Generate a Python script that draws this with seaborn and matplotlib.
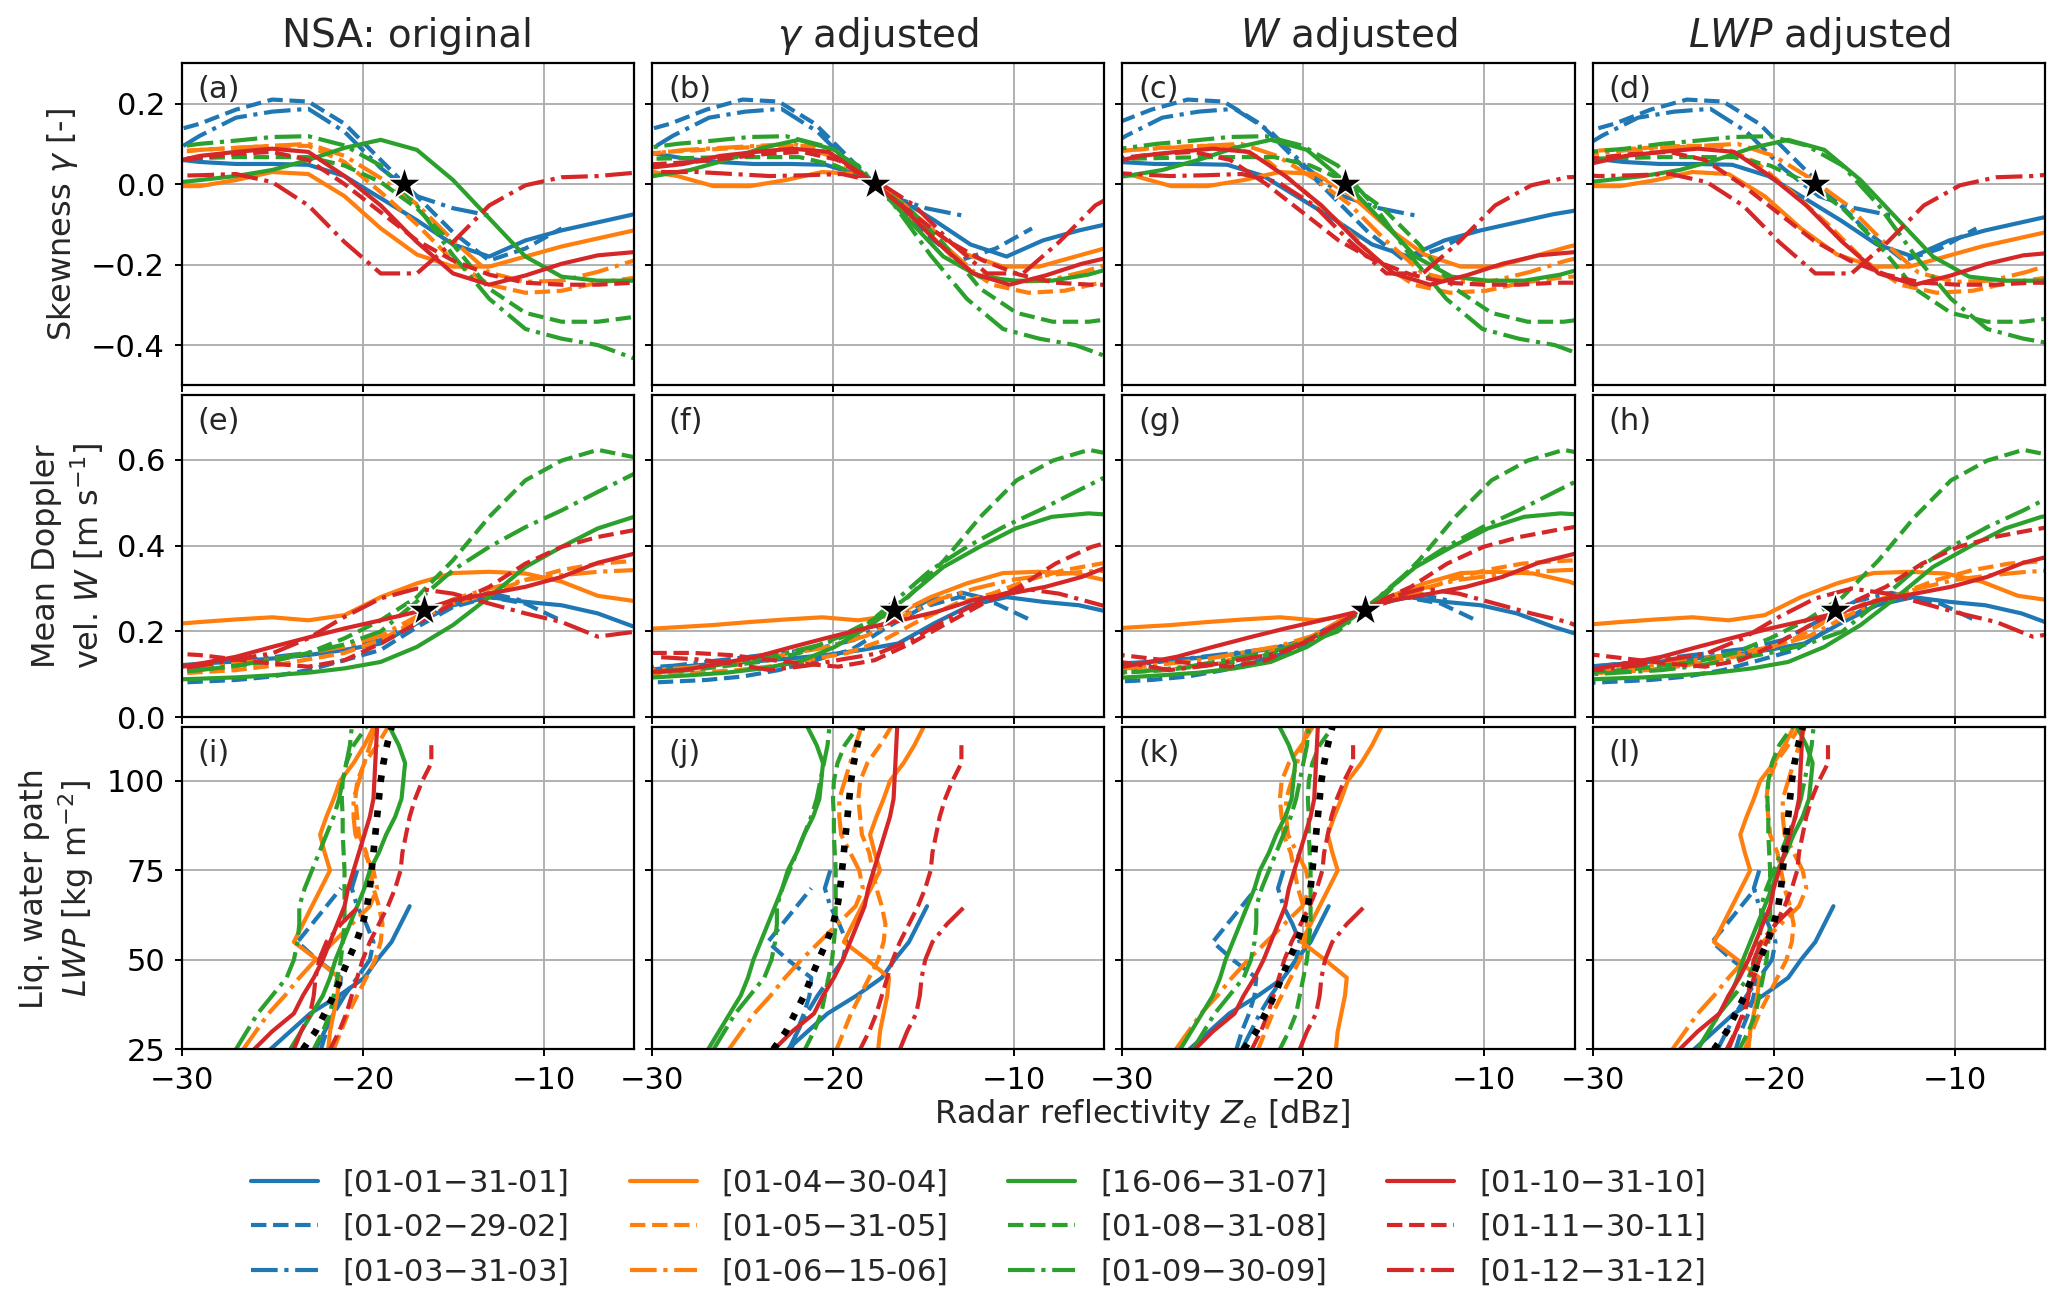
import numpy as np
import matplotlib
matplotlib.use("Agg")
import matplotlib.pyplot as plt
import seaborn as sns

nan = np.nan

# reflectivity bins (dBz) used in the skewness / velocity rows
ze_bins = np.array([-37, -35, -33, -31, -29, -27, -25, -23, -21, -19,
                    -17, -15, -13, -11, -9, -7, -5, -3, -1])
# LWP bins (kg m-2) used in the bottom row
lwp_bins = np.array([25, 30, 35, 40, 45, 50, 55, 60, 65, 70,
                     75, 80, 85, 90, 95, 100, 105, 110, 115])

# skewness per month (original calibration)
skew_jan = [0.09, 0.085, 0.08, 0.065, 0.055, 0.05, 0.05, 0.048, 0.02, -0.035, -0.09, -0.15, -0.18, -0.14, -0.115, -0.095, -0.075, -0.06, -0.045]
skew_feb = [0.06, 0.08, 0.1, 0.125, 0.15, 0.185, 0.21, 0.205, 0.15, 0.06, -0.03, -0.12, -0.19, -0.16, -0.11, nan, nan, nan, nan]
skew_mar = [0.03, 0.04, 0.05, 0.065, 0.12, 0.165, 0.18, 0.187, 0.13, 0.04, -0.03, -0.06, -0.078, nan, nan, nan, nan, nan, nan]
skew_apr = [0.04, 0.035, 0.02, -0.005, -0.005, 0.01, 0.03, 0.025, -0.03, -0.11, -0.175, -0.205, -0.205, -0.18, -0.155, -0.135, -0.115, -0.1, -0.09]
skew_may = [0.06, 0.065, 0.07, 0.08, 0.085, 0.09, 0.095, 0.095, 0.055, -0.02, -0.1, -0.19, -0.25, -0.27, -0.265, -0.245, -0.233, -0.225, -0.22]
skew_jun = [0.05, 0.06, 0.065, 0.075, 0.085, 0.09, 0.095, 0.1, 0.07, 0.015, -0.05, -0.14, -0.22, -0.243, -0.24, -0.218, -0.19, -0.17, -0.155]
skew_jul = [-0.01, -0.005, 0.0, 0.0, 0.01, 0.02, 0.035, 0.06, 0.09, 0.11, 0.085, 0.01, -0.085, -0.18, -0.23, -0.24, -0.24, -0.225, -0.2]
skew_aug = [0.05, 0.055, 0.06, 0.063, 0.065, 0.067, 0.067, 0.067, 0.046, 0.005, -0.06, -0.15, -0.26, -0.32, -0.342, -0.342, -0.33, -0.32, -0.31]
skew_sep = [0.06, 0.07, 0.08, 0.088, 0.1, 0.108, 0.117, 0.119, 0.096, 0.046, -0.053, -0.177, -0.285, -0.36, -0.384, -0.4, -0.433, -0.45, -0.47]
skew_oct = [0.03, 0.035, 0.04, 0.05, 0.07, 0.08, 0.088, 0.08, 0.02, -0.053, -0.144, -0.222, -0.25, -0.227, -0.198, -0.177, -0.169, -0.165, -0.16]
skew_nov = [0.04, 0.045, 0.05, 0.055, 0.065, 0.075, 0.08, 0.06, 0.0, -0.07, -0.14, -0.19, -0.225, -0.245, -0.25, -0.25, -0.245, -0.245, -0.245]
skew_dec = [0.03, 0.03, 0.025, 0.02, 0.022, 0.025, 0.005, -0.053, -0.144, -0.222, -0.222, -0.144, -0.053, -0.003, 0.017, 0.02, 0.028, 0.03, 0.03]

# mean Doppler velocity per month (m s-1)
vel_jan = [0.1, 0.105, 0.11, 0.118, 0.125, 0.13, 0.137, 0.145, 0.157, 0.172, 0.219, 0.261, 0.28, 0.269, 0.261, 0.242, 0.211, 0.185, 0.16]
vel_feb = [0.07, 0.072, 0.075, 0.079, 0.083, 0.087, 0.095, 0.11, 0.133, 0.157, 0.21, 0.257, 0.28, 0.265, 0.225, nan, nan, nan, nan]
vel_mar = [0.1, 0.105, 0.11, 0.115, 0.12, 0.13, 0.14, 0.15, 0.16, 0.18, 0.225, 0.27, 0.29, 0.27, nan, nan, nan, nan, nan]
vel_apr = [0.2, 0.205, 0.21, 0.215, 0.222, 0.228, 0.233, 0.226, 0.238, 0.28, 0.312, 0.336, 0.339, 0.335, 0.316, 0.283, 0.271, 0.26, 0.25]
vel_may = [0.085, 0.09, 0.095, 0.1, 0.105, 0.11, 0.12, 0.135, 0.15, 0.18, 0.226, 0.265, 0.288, 0.32, 0.343, 0.358, 0.364, 0.368, 0.37]
vel_jun = [0.095, 0.1, 0.105, 0.11, 0.115, 0.125, 0.135, 0.15, 0.165, 0.19, 0.235, 0.275, 0.3, 0.32, 0.331, 0.339, 0.343, 0.345, 0.346]
vel_jul = [0.075, 0.08, 0.083, 0.087, 0.09, 0.093, 0.098, 0.104, 0.114, 0.129, 0.164, 0.215, 0.28, 0.35, 0.397, 0.44, 0.467, 0.475, 0.47]
vel_aug = [0.09, 0.095, 0.1, 0.105, 0.11, 0.12, 0.13, 0.15, 0.184, 0.226, 0.28, 0.366, 0.467, 0.552, 0.598, 0.623, 0.606, 0.59, 0.58]
vel_sep = [0.09, 0.095, 0.1, 0.105, 0.11, 0.12, 0.135, 0.15, 0.17, 0.2, 0.27, 0.343, 0.397, 0.443, 0.482, 0.525, 0.567, 0.6, 0.62]
vel_oct = [0.09, 0.1, 0.105, 0.11, 0.125, 0.141, 0.164, 0.186, 0.207, 0.226, 0.246, 0.273, 0.288, 0.304, 0.327, 0.36, 0.381, 0.395, 0.405]
vel_nov = [0.15, 0.15, 0.15, 0.15, 0.145, 0.135, 0.125, 0.118, 0.133, 0.172, 0.219, 0.265, 0.304, 0.358, 0.397, 0.42, 0.436, 0.45, 0.46]
vel_dec = [0.14, 0.135, 0.125, 0.11, 0.12, 0.135, 0.149, 0.184, 0.234, 0.277, 0.3, 0.288, 0.265, 0.242, 0.222, 0.188, 0.199, 0.205, 0.21]

# reflectivity (dBz) at each LWP bin per month
zlwp_jan = [-25.1, -24.0, -22.9, -21.3, -19.9, -19.2, -18.4, -17.9, -17.4, nan, nan, nan, nan, nan, nan, nan, nan, nan, nan]
zlwp_feb = [-22.3, -22.0, -21.6, -21.3, -21.2, -22.5, -23.6, -22.8, -22.0, -21.2, nan, nan, nan, nan, nan, nan, nan, nan, nan]
zlwp_mar = [-22.6, -22.1, -21.6, -21.0, -20.3, -19.6, -19.4, -19.8, -20.3, -20.6, -20.3, nan, nan, nan, nan, nan, nan, nan, nan]
zlwp_apr = [-21.9, -21.8, -21.6, -21.4, -21.3, -22.5, -23.8, -23.3, -22.8, -22.3, -21.8, -22.1, -22.35, -22.0, -21.6, -21.25, -20.5, -19.9, -19.4]
zlwp_may = [-21.6, -21.2, -20.8, -20.3, -19.8, -19.3, -19.0, -18.9, -19.1, -19.4, -19.6, -19.8, -20.2, -20.3, -20.4, -20.3, -19.9, -19.2, -18.6]
zlwp_jun = [-26.6, -25.9, -25.2, -24.3, -23.5, -22.6, -21.6, -20.6, -19.6, -19.2, -19.4, -19.9, -20.4, -20.5, -20.5, -20.2, -19.9, -19.6, -19.3]
zlwp_jul = [-24.0, -23.4, -22.8, -22.2, -21.8, -21.5, -21.1, -20.7, -20.3, -19.9, -19.6, -19.1, -18.7, -18.2, -17.85, -17.75, -17.65, -18.0, -18.5]
zlwp_aug = [-22.7, -22.2, -21.8, -21.6, -21.4, -21.2, -21.1, -21.0, -21.0, -21.0, -21.0, -21.05, -21.1, -21.1, -21.15, -21.1, -20.9, -20.5, -19.8]
zlwp_sep = [-27.0, -26.4, -25.8, -25.0, -24.2, -23.8, -23.6, -23.5, -23.5, -23.2, -22.8, -22.4, -22.0, -21.6, -21.3, -21.1, -20.9, -20.7, -20.6]
zlwp_oct = [-26.0, -25.0, -23.8, -23.3, -22.7, -22.2, -21.8, -21.4, -21.0, -20.8, -20.5, -20.2, -19.9, -19.6, -19.4, -19.35, -19.3, -19.25, -19.2]
zlwp_nov = [-21.8, -21.3, -20.9, -20.6, -20.3, -20.0, -19.6, -19.1, -18.6, -18.2, -17.9, -17.8, -17.6, -17.4, -17.1, -16.7, -16.2, -16.2, nan]
zlwp_dec = [-23.8, -23.4, -22.9, -22.7, -22.6, -22.4, -22.0, -21.2, -20.2, nan, nan, nan, nan, nan, nan, nan, nan, nan, nan]

# reference Ze-LWP relation (black dotted)
zlwp_ref = [-23.3, -22.6, -22.1, -21.6, -21.2, -20.8, -20.35, -20.0, -19.75, -19.6, -19.5, -19.4, -19.3, -19.2, -19.1, -19.0, -18.85, -18.65, -18.4]

# calibration offsets (dB) applied to Ze in each column, Jan..Dec
shift_orig = [0.0] * 12
shift_gamma = [2.6, 0.0, 0.15, 4.4, 1.8, 0.85, -2.9, 1.15, 0.4, 2.75, 3.3, 7.5]
shift_w = [-1.2, -1.4, -0.8, 3.7, -0.9, -0.45, -2.8, 1.4, 0.9, 0.0, -1.05, 3.6]
shift_lwp = [0.7, 0.2, -0.5, 0.5, 0.0, 1.0, -0.2, 0.8, 2.8, 0.8, -0.8, 1.3]

# target points (stars)
star_skew = (-17.7, 0.0)
star_vel = (-16.6, 0.25)

labels = ["[01-01$-$31-01]", "[01-02$-$29-02]", "[01-03$-$31-03]",
          "[01-04$-$30-04]", "[01-05$-$31-05]", "[01-06$-$15-06]",
          "[16-06$-$31-07]", "[01-08$-$31-08]", "[01-09$-$30-09]",
          "[01-10$-$31-10]", "[01-11$-$30-11]", "[01-12$-$31-12]"]
colors = ["#1f77b4"] * 3 + ["#ff7f0e"] * 3 + ["#2ca02c"] * 3 + ["#d62728"] * 3
styles = ["-", "--", "-."] * 4

col_titles = ["NSA: original", r"$\gamma$ adjusted", r"$W$ adjusted", r"$LWP$ adjusted"]
row_labels = [r"Skewness $\gamma$ [-]", "Mean Doppler\nvel. $W$ [m s$^{-1}$]",
              "Liq. water path\n$LWP$ [kg m$^{-2}$]"]

skew_all = [skew_jan, skew_feb, skew_mar, skew_apr, skew_may, skew_jun,
            skew_jul, skew_aug, skew_sep, skew_oct, skew_nov, skew_dec]
vel_all = [vel_jan, vel_feb, vel_mar, vel_apr, vel_may, vel_jun,
           vel_jul, vel_aug, vel_sep, vel_oct, vel_nov, vel_dec]
zlwp_all = [zlwp_jan, zlwp_feb, zlwp_mar, zlwp_apr, zlwp_may, zlwp_jun,
            zlwp_jul, zlwp_aug, zlwp_sep, zlwp_oct, zlwp_nov, zlwp_dec]
shifts = [shift_orig, shift_gamma, shift_w, shift_lwp]

sns.set_style("ticks", {"axes.grid": True, "grid.color": "#b0b0b0",
                        "axes.edgecolor": "black", "xtick.color": "black",
                        "ytick.color": "black"})
plt.rcParams["font.family"] = ["DejaVu Sans"]
plt.rcParams["mathtext.fontset"] = "dejavusans"

fig, axes = plt.subplots(3, 4, figsize=(10.335, 6.49), dpi=200,
                         sharex=True, sharey="row")
fig.subplots_adjust(left=0.0879, right=0.9894, top=0.9512, bottom=0.1916,
                    wspace=0.04, hspace=0.031)

lw = 1.5
letters = "abcdefghijkl"

for col in range(4):
    sh = shifts[col]
    for m in range(12):
        x = ze_bins + sh[m]
        sns.lineplot(x=x, y=skew_all[m], ax=axes[0, col], color=colors[m],
                     linestyle=styles[m], lw=lw, sort=False, estimator=None,
                     legend=False, label=labels[m])
        sns.lineplot(x=x, y=vel_all[m], ax=axes[1, col], color=colors[m],
                     linestyle=styles[m], lw=lw, sort=False, estimator=None,
                     legend=False)
        sns.lineplot(x=np.array(zlwp_all[m]) + sh[m], y=lwp_bins, ax=axes[2, col],
                     color=colors[m], linestyle=styles[m], lw=lw, sort=False,
                     estimator=None, legend=False, orient="y")
    sns.scatterplot(x=[star_skew[0]], y=[star_skew[1]], ax=axes[0, col], marker="*",
                    s=170, color="black", edgecolor="white", linewidth=0.6,
                    zorder=5, legend=False)
    sns.scatterplot(x=[star_vel[0]], y=[star_vel[1]], ax=axes[1, col], marker="*",
                    s=170, color="black", edgecolor="white", linewidth=0.6,
                    zorder=5, legend=False)
    sns.lineplot(x=zlwp_ref, y=lwp_bins, ax=axes[2, col], color="black",
                 linestyle=":", lw=2.4, sort=False, estimator=None,
                 legend=False, orient="y", zorder=5)
    axes[0, col].set_title(col_titles[col], fontsize=14)

for i, ax in enumerate(axes.flat):
    if ax.get_legend() is not None:
        ax.get_legend().remove()
    ax.grid(True, color="#b0b0b0", lw=0.7)
    ax.tick_params(labelsize=11, length=2.5, width=0.7, direction="out")
    for sp in ax.spines.values():
        sp.set_linewidth(0.8)
        sp.set_color("black")
    ax.text(0.035, 0.965, "(" + letters[i] + ")", transform=ax.transAxes,
            ha="left", va="top", fontsize=11)
    ax.set_xlabel("")
    ax.set_ylabel("")

axes[0, 0].set_xlim(-30, -5)
axes[0, 0].set_xticks([-30, -20, -10])
axes[0, 0].set_ylim(-0.5, 0.3)
axes[0, 0].set_yticks([-0.4, -0.2, 0.0, 0.2])
axes[1, 0].set_ylim(0.0, 0.75)
axes[1, 0].set_yticks([0.0, 0.2, 0.4, 0.6])
axes[2, 0].set_ylim(25, 115)
axes[2, 0].set_yticks([25, 50, 75, 100])

for r in range(3):
    axes[r, 0].set_ylabel(row_labels[r], fontsize=11.5)

fig.text(0.5525, 0.141, "Radar reflectivity $Z_e$ [dBz]", ha="center",
         va="center", fontsize=11.5)

handles, labs = axes[0, 0].get_legend_handles_labels()
fig.legend(handles[:12], labs[:12], loc="upper center", bbox_to_anchor=(0.473, 0.122),
           ncol=4, frameon=False, fontsize=11, handlelength=2.2,
           columnspacing=2.0, labelspacing=0.45)

fig.savefig("out.png", dpi=200)
